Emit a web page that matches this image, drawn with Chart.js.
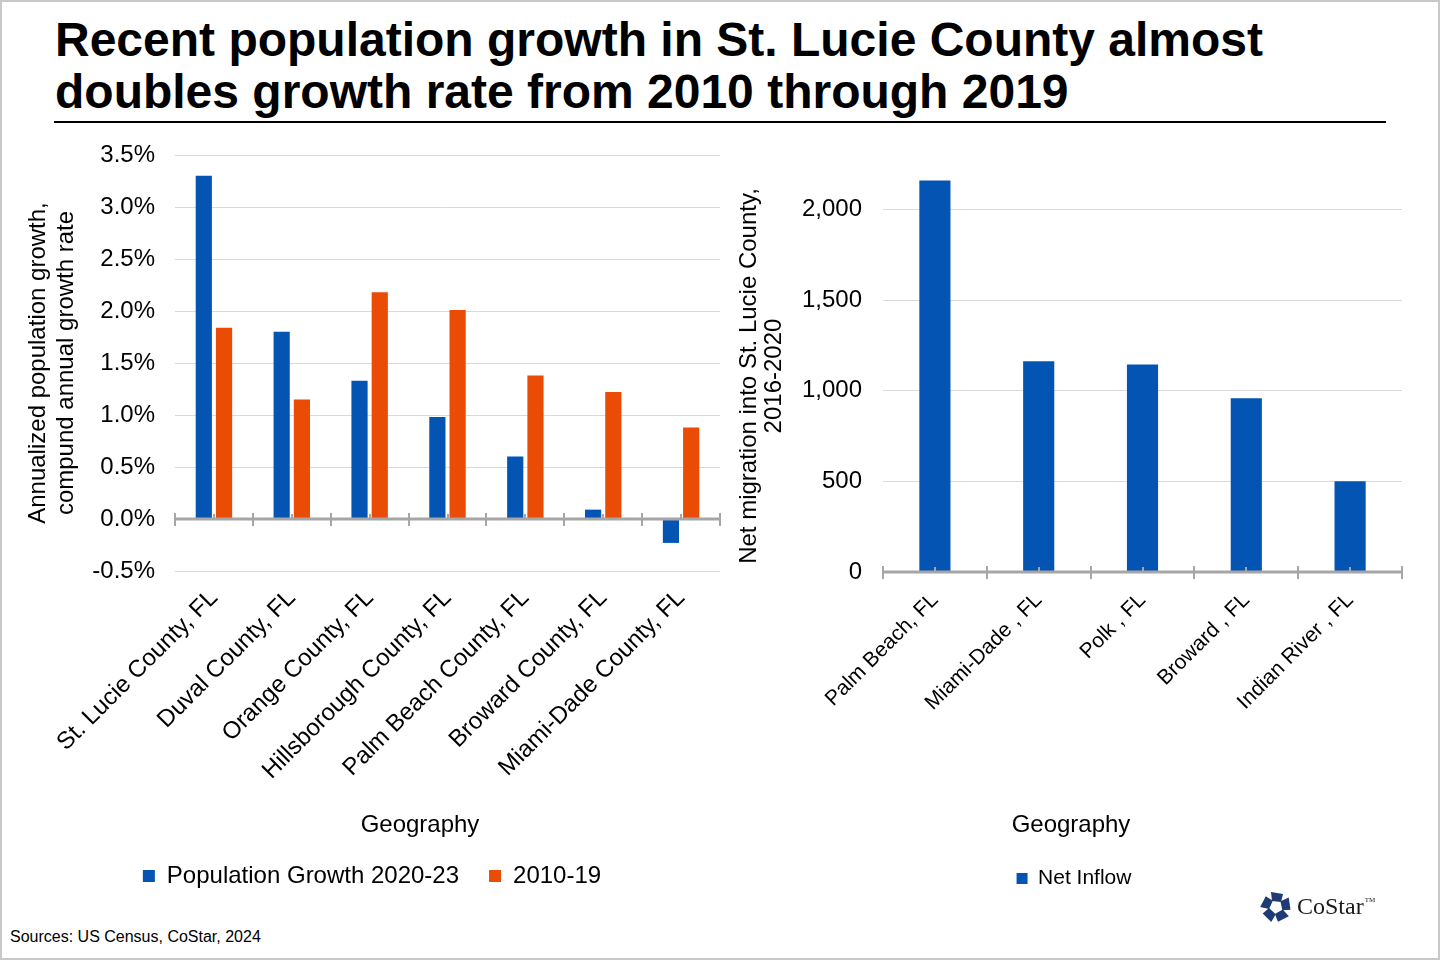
<!DOCTYPE html>
<html>
<head>
<meta charset="utf-8">
<script src="https://cdn.jsdelivr.net/npm/chart.js@4.4.1/dist/chart.umd.min.js"></script>
<style>
  html, body { margin: 0; padding: 0; background: #fff; }
  body { width: 1440px; height: 960px; position: relative; overflow: hidden; font-family: "Liberation Sans", Arial, sans-serif; }
  #frame { position: absolute; left: 0; top: 0; width: 1436px; height: 956px; border: 2px solid #c8c8c8; }
  #title { position: absolute; left: 55px; top: 14px; font-weight: 700; font-size: 48px; line-height: 52px; color: #000; white-space: nowrap; }
  #rule { position: absolute; left: 54px; top: 121px; width: 1332px; height: 2px; background: #000; }
  #c1 { position: absolute; left: 0; top: 130px; }
  #c2 { position: absolute; left: 730px; top: 130px; }
  .xtitle { position: absolute; width: 200px; text-align: center; font-size: 24px; line-height: 28px; top: 810px; color: #000; }
  #xt1 { left: 320px; }
  #xt2 { left: 971px; }
  #yt2 { position: absolute; left: 560px; top: 351px; width: 400px; height: 50px; text-align: center; font-size: 24px; line-height: 25px; color: #000; transform: rotate(-90deg); transform-origin: 50% 50%; white-space: nowrap; }
  #src { position: absolute; left: 10px; top: 928px; font-size: 16px; color: #000; }
  #logo { position: absolute; left: 1258px; top: 890px; }
  #logotext { position: absolute; left: 1297px; top: 893px; font-family: "Liberation Serif", "DejaVu Serif", serif; font-size: 24px; color: #1a1a1a; }
  #logotext sup { font-size: 7px; vertical-align: 12px; margin-left: 1px; }
</style>
</head>
<body>
<div id="frame"></div>
<div id="title">Recent population growth in St. Lucie County almost<br>doubles growth rate from 2010 through 2019</div>
<div id="rule"></div>
<canvas id="c1" width="730" height="768"></canvas>
<canvas id="c2" width="700" height="769"></canvas>
<div class="xtitle" id="xt1">Geography</div>
<div class="xtitle" id="xt2">Geography</div>
<div id="yt2">Net migration into St. Lucie County,<br>2016-2020</div>
<div id="src">Sources: US Census, CoStar, 2024</div>
<svg id="logo" width="36" height="34" viewBox="-18 -17 36 34">
  <g fill="#1f3b73">
    <polygon points="-5,-15 7,-13 5,-5 -4,-6" transform="rotate(0)"/>
    <polygon points="-5,-15 7,-13 5,-5 -4,-6" transform="rotate(72)"/>
    <polygon points="-5,-15 7,-13 5,-5 -4,-6" transform="rotate(144)"/>
    <polygon points="-5,-15 7,-13 5,-5 -4,-6" transform="rotate(216)"/>
    <polygon points="-5,-15 7,-13 5,-5 -4,-6" transform="rotate(288)"/>
  </g>
</svg>
<div id="logotext">CoStar<sup>TM</sup></div>
<script>
// ---- Data ----
const growthCategories = ["St. Lucie County, FL", "Duval County, FL", "Orange County, FL", "Hillsborough County, FL", "Palm Beach County, FL", "Broward County, FL", "Miami-Dade County, FL"];
const growth2020_23 = [3.30, 1.80, 1.33, 0.98, 0.60, 0.09, -0.23];
const growth2010_19 = [1.84, 1.15, 2.18, 2.01, 1.38, 1.22, 0.88];
const growthTicks = [-0.5, 0, 0.5, 1.0, 1.5, 2.0, 2.5, 3.0, 3.5];

const inflowCategories = ["Palm Beach, FL", "Miami-Dade , FL", "Polk , FL", "Broward , FL", "Indian River , FL"];
const netInflow = [2160, 1162, 1145, 958, 500];
const inflowTicks = [0, 500, 1000, 1500, 2000];

const BLUE = '#0455b3';
const ORANGE = '#ea4b05';
const FONT = "'Liberation Sans', Arial, sans-serif";

// Axis line at zero with category tick marks, computed from the library's scales
const zeroAxis = {
  id: 'zeroAxis',
  afterDatasetsDraw(chart) {
    const { ctx, chartArea, scales: { x, y } } = chart;
    const y0 = y.getPixelForValue(0);
    const n = chart.data.labels.length;
    ctx.save();
    ctx.strokeStyle = '#a6a6a6';
    ctx.lineWidth = 3;
    ctx.beginPath();
    ctx.moveTo(chartArea.left, y0);
    ctx.lineTo(chartArea.right, y0);
    ctx.stroke();
    ctx.lineWidth = 2;
    for (let i = 0; i <= n; i++) {
      const px = Math.round(x.getPixelForValue(i - 0.5));
      ctx.beginPath();
      ctx.moveTo(px, y0 - 6);
      ctx.lineTo(px, y0 + 7);
      ctx.stroke();
    }
    for (let i = 0; i < n; i++) {
      const px = Math.round(x.getPixelForValue(i));
      ctx.beginPath();
      ctx.moveTo(px, y0 - 5);
      ctx.lineTo(px, y0);
      ctx.stroke();
    }
    ctx.restore();
  }
};

function setTicks(values) {
  return function (scale) { scale.ticks = values.map(v => ({ value: v })); };
}

// ---- Left chart ----
new Chart(document.getElementById('c1'), {
  type: 'bar',
  data: {
    labels: growthCategories,
    datasets: [
      { label: 'Population Growth 2020-23', data: growth2020_23, backgroundColor: BLUE, barPercentage: 0.8, categoryPercentage: 0.52 },
      { label: '2010-19', data: growth2010_19, backgroundColor: ORANGE, barPercentage: 0.8, categoryPercentage: 0.52 }
    ]
  },
  options: {
    responsive: false,
    animation: false,
    layout: { padding: { top: 25, right: 10, left: 24, bottom: 0 } },
    plugins: {
      tooltip: { enabled: false },
      legend: {
        position: 'bottom',
        labels: { color: '#000', font: { family: FONT, size: 24 }, boxWidth: 12, boxHeight: 12, padding: 30 }
      }
    },
    scales: {
      x: {
        grid: { display: false },
        border: { display: false },
        ticks: { color: '#000', font: { family: FONT, size: 24 }, minRotation: 45, maxRotation: 45, autoSkip: false, padding: 5 },
        afterFit(scale) { scale.height = 263; }
      },
      y: {
        min: -0.5, max: 3.5,
        afterBuildTicks: setTicks(growthTicks),
        grid: { color: '#d9d9d9', lineWidth: 1, drawTicks: false },
        border: { display: false },
        ticks: { color: '#000', font: { family: FONT, size: 24 }, padding: 20, callback: v => v.toFixed(1) + '%' },
        title: { display: true, text: ['Annualized population growth,', 'compund annual growth rate'], color: '#000', font: { family: FONT, size: 24, lineHeight: 1.15 }, padding: { top: 1, bottom: 0 } },
        afterFit(scale) { scale.width = 151; scale.paddingTop = 0; scale.paddingBottom = 0; }
      }
    }
  },
  plugins: [zeroAxis]
});

// ---- Right chart ----
new Chart(document.getElementById('c2'), {
  type: 'bar',
  data: {
    labels: inflowCategories,
    datasets: [
      { label: 'Net Inflow', data: netInflow, backgroundColor: BLUE, barPercentage: 1, categoryPercentage: 0.3 }
    ]
  },
  options: {
    responsive: false,
    animation: false,
    layout: { padding: { top: 25, right: 28, left: 16, bottom: 0 } },
    plugins: {
      tooltip: { enabled: false },
      legend: {
        position: 'bottom',
        labels: { color: '#000', font: { family: FONT, size: 21 }, boxWidth: 11, boxHeight: 11, padding: 10 }
      }
    },
    scales: {
      x: {
        grid: { display: false },
        border: { display: false },
        ticks: { color: '#000', font: { family: FONT, size: 21 }, minRotation: 45, maxRotation: 45, autoSkip: false, padding: 8 },
        afterFit(scale) { scale.height = 286; }
      },
      y: {
        min: 0, max: 2300,
        afterBuildTicks: setTicks(inflowTicks),
        grid: { color: '#d9d9d9', lineWidth: 1, drawTicks: false },
        border: { display: false },
        ticks: { color: '#000', font: { family: FONT, size: 24 }, padding: 21, callback: v => v.toLocaleString('en-US') },
        afterFit(scale) { scale.width = 137; scale.paddingTop = 0; scale.paddingBottom = 0; }
      }
    }
  },
  plugins: [zeroAxis]
});
</script>
</body>
</html>
